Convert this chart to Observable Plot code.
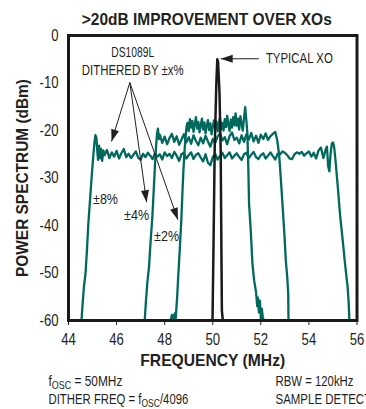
<!DOCTYPE html>
<html>
<head>
<meta charset="utf-8">
<script src="https://cdn.jsdelivr.net/npm/d3@7"></script>
<script src="https://cdn.jsdelivr.net/npm/@observablehq/plot@0.6"></script>
<style>
  html, body { margin: 0; padding: 0; background: #fff; }
  #chart { width: 366px; height: 409px; overflow: hidden; }
</style>
</head>
<body>
<div id="chart"></div>
<script>
// ---- data ----
const freqTicks = [44, 46, 48, 50, 52, 54, 56];
const powerTicks = [-60, -50, -40, -30, -20, -10, 0];

// DS1089L dithered by ±8%
const dither8 = [
  [44.54,-60],[44.58,-57],[44.64,-53],[44.71,-50],[44.77,-45],[44.82,-40],[44.89,-35],[44.96,-30],
  [45.02,-26],[45.07,-23],[45.12,-21],[45.16,-21.5],[45.2,-24.5],[45.23,-26.2],[45.27,-23.2],[45.31,-25.8],
  [45.35,-23.8],[45.4,-26.4],[45.45,-24.2],
  [45.5,-25.2],[45.6,-24.1],[45.7,-25.8],[45.8,-24.6],[45.9,-25.5],[46.0,-24.3],[46.1,-25.9],[46.2,-24.8],
  [46.3,-23.9],[46.4,-25.6],[46.5,-24.9],[46.6,-25.8],[46.7,-25.1],[46.8,-24.4],[46.9,-25.7],[47.0,-26.2],
  [47.1,-24.9],[47.2,-25.6],[47.3,-24.7],[47.4,-25.3],[47.5,-26.0],[47.6,-24.8],[47.7,-25.5],[47.8,-25.0],
  [47.9,-26.1],[48.0,-24.6],[48.1,-25.4],[48.2,-24.9],[48.3,-25.8],[48.4,-24.5],[48.5,-25.3],[48.6,-26.4],
  [48.7,-25.0],[48.8,-24.7],[48.9,-25.9],[49.0,-25.2],[49.1,-24.6],[49.2,-26.0],[49.3,-25.1],[49.4,-24.8],
  [49.5,-25.7],[49.6,-26.5],[49.7,-25.0],[49.8,-26.8],[49.9,-27.3],[50.0,-25.6],[50.1,-24.9],[50.2,-26.1],
  [50.3,-25.4],[50.4,-24.7],[50.5,-25.8],[50.6,-25.2],[50.7,-24.6],[50.8,-25.9],[50.9,-25.3],[51.0,-24.8],
  [51.1,-25.6],[51.2,-26.2],[51.3,-25.0],[51.4,-24.7],[51.5,-25.8],[51.6,-25.1],[51.7,-24.5],[51.8,-25.6],
  [51.9,-26.0],[52.0,-25.2],[52.1,-24.8],[52.2,-25.9],[52.3,-25.3],[52.4,-24.6],[52.5,-25.4],[52.6,-26.1],
  [52.7,-24.9],[52.8,-25.0],[52.9,-24.4],[53.0,-24.7],[53.1,-25.2],[53.2,-25.9],[53.3,-26.0],[53.4,-25.0],
  [53.5,-24.6],[53.6,-24.9],[53.7,-24.5],[53.8,-25.3],[53.9,-24.8],[54.0,-24.4],[54.1,-25.5],[54.2,-24.7],
  [54.3,-25.9],[54.4,-24.2],[54.5,-23.6],[54.6,-25.8],[54.7,-24.0],[54.75,-23.4],[54.8,-27.5],[54.85,-28.6],
  [54.9,-25.0],[54.95,-22.8],[55.0,-22.5],[55.05,-23.5],[55.1,-26.0],[55.19,-31.2],[55.3,-38],[55.42,-43.8],
  [55.5,-48],[55.61,-52.9],[55.65,-56],[55.68,-59.6],[55.69,-60]
];

// DS1089L dithered by ±4%
const dither4 = [
  [47.17,-60],[47.22,-56],[47.28,-52],[47.35,-48.6],[47.42,-43],[47.49,-38],[47.55,-32],[47.6,-27],
  [47.64,-23.5],[47.68,-20.8],[47.72,-19.6],[47.76,-21.8],
  [47.8,-20.9],[47.9,-22.6],[48.0,-21.3],[48.1,-22.9],[48.2,-21.6],[48.3,-20.7],[48.4,-22.4],[48.5,-21.2],
  [48.6,-23.0],[48.7,-21.9],[48.8,-20.8],[48.9,-22.5],[49.0,-21.4],[49.1,-22.8],[49.2,-21.0],[49.3,-22.2],
  [49.4,-23.1],[49.5,-21.5],[49.6,-22.7],[49.7,-21.1],[49.8,-22.3],[49.9,-23.4],[50.0,-21.8],[50.1,-22.6],
  [50.2,-21.3],[50.3,-20.6],[50.4,-22.1],[50.5,-21.4],[50.6,-22.9],[50.7,-21.2],[50.8,-20.4],[50.9,-22.0],
  [51.0,-21.5],[51.1,-22.7],[51.2,-21.0],[51.3,-22.4],[51.4,-20.8],[51.5,-21.9],[51.6,-20.5],[51.7,-22.3],
  [51.8,-21.1],[51.9,-22.6],[52.0,-20.9],[52.1,-21.8],[52.2,-20.6],[52.3,-22.0],[52.4,-21.2],[52.5,-20.7],
  [52.6,-20.3],[52.68,-22.0],[52.76,-25],[52.83,-30],[52.9,-35.5],[52.97,-41],[53.04,-47.4],[53.1,-51],
  [53.14,-54.4],[53.15,-60]
];

// DS1089L dithered by ±2%
const dither2 = [
  [48.25,-60],[48.3,-58.8],[48.36,-59.6],[48.42,-58.5],[48.46,-59.5],[48.52,-55],[48.56,-51],[48.6,-47.6],
  [48.65,-43],[48.69,-39],[48.74,-33],[48.78,-28.4],[48.83,-24],[48.87,-21.4],[48.91,-19.2],
  [48.95,-18.4],[49.0,-20.1],[49.05,-17.6],[49.1,-19.4],[49.15,-18.0],[49.2,-20.3],[49.25,-18.7],[49.3,-17.2],
  [49.35,-19.6],[49.4,-18.2],[49.45,-20.4],[49.5,-18.9],[49.55,-17.5],[49.6,-19.8],[49.65,-18.3],[49.7,-20.6],
  [49.75,-19.0],[49.8,-17.8],[49.85,-19.9],[49.9,-18.5],[49.95,-20.8],[50.0,-19.2],[50.05,-17.9],[50.1,-19.5],
  [50.15,-18.1],[50.2,-20.2],[50.25,-18.6],[50.3,-17.3],[50.35,-19.7],[50.4,-18.4],[50.45,-20.0],[50.5,-17.6],
  [50.55,-19.3],[50.6,-16.9],[50.65,-18.8],[50.7,-20.1],[50.75,-17.7],[50.8,-19.4],[50.85,-17.2],[50.9,-18.9],
  [50.95,-16.4],[51.0,-19.0],[51.05,-17.5],[51.1,-19.8],[51.15,-17.0],[51.2,-18.6],[51.25,-20.0],[51.3,-17.4],
  [51.35,-15.1],[51.4,-18.0],[51.44,-20.6],[51.48,-28],[51.51,-35.4],[51.58,-41],[51.65,-48],[51.72,-51.5],
  [51.8,-54],[51.85,-57],[51.88,-55.2],[51.92,-58.3],[51.96,-55.8],[52.0,-59.6],[52.04,-57.5],[52.08,-59.2],
  [52.12,-60]
];

// Typical crystal oscillator
const typicalXO = [
  [49.99,-60],[50.03,-45],[50.08,-24],[50.15,-10],[50.19,-5],[50.22,-5.5],[50.28,-12],[50.33,-24],
  [50.36,-45],[50.38,-58],[50.42,-60]
];

// annotations (data coordinates)
const seriesLabels = [
  {x: 45.54, y: -34.5, text: "±8%"},
  {x: 46.83, y: -37.9, text: "±4%"},
  {x: 48.08, y: -42.3, text: "±2%"}
];
const partLabels = [
  {x: 46.67, y: -3.6, text: "DS1089L"},
  {x: 46.67, y: -7.4, text: "DITHERED BY ±x%"}
];
const pointerArrows = [
  {x1: 46.55, y1: -9.9, x2: 45.79, y2: -22.3},
  {x1: 46.55, y1: -9.9, x2: 47.25, y2: -35.1},
  {x1: 46.55, y1: -9.9, x2: 48.55, y2: -38.8},
  {x1: 51.92, y1: -4.9, x2: 50.33, y2: -4.9}
];
const xoLabel = [{x: 52.21, y: -4.9, text: "TYPICAL XO"}];

const titleText = ">20dB IMPROVEMENT OVER XOs";
const xLabel = "FREQUENCY (MHz)";
const yLabel = "POWER SPECTRUM (dBm)";
const notesLeft = ["f{OSC} = 50MHz", "DITHER FREQ = f{OSC}/4096"];
const notesRight = ["RBW = 120kHz", "SAMPLE DETECT"];

// ---- styles ----
const FONT = "'Liberation Sans', Arial, Helvetica, sans-serif";
const TEAL = "#00695e";
const INK = "#231f20";
// condensed look: horizontal widths (px) of texts in the reference
const textWidths = new Map([
  [titleText, 250], [xLabel, 145], [yLabel, 198],
  ["DS1089L", 43], ["DITHERED BY ±x%", 102], ["TYPICAL XO", 67],
  ["±8%", 25], ["±4%", 25], ["±2%", 25],
  ["fOSC = 50MHz", 74], ["DITHER FREQ = fOSC/4096", 140], ["RBW = 120kHz", 78]
]);
const defaultCondense = 0.82;

const outside = {fill: INK, lineAnchor: "middle"};

const chart = Plot.plot({
  width: 366,
  height: 409,
  marginTop: 35,
  marginRight: 9.5,
  marginBottom: 89,
  marginLeft: 68,
  style: {fontFamily: FONT, fontSize: "16px", color: INK, background: "#fff"},
  x: {domain: [44, 56]},
  y: {domain: [-60, 0]},
  marks: [
    Plot.line(dither8, {x: d => d[0], y: d => d[1], stroke: TEAL, strokeWidth: 2.3, strokeLinejoin: "round"}),
    Plot.line(dither4, {x: d => d[0], y: d => d[1], stroke: TEAL, strokeWidth: 2.3, strokeLinejoin: "round"}),
    Plot.line(dither2, {x: d => d[0], y: d => d[1], stroke: TEAL, strokeWidth: 2.3, strokeLinejoin: "round"}),
    Plot.line(typicalXO, {x: d => d[0], y: d => d[1], stroke: "#1a1a1a", strokeWidth: 2.5, strokeLinejoin: "round"}),
    Plot.link(pointerArrows, {x1: "x1", y1: "y1", x2: "x2", y2: "y2", stroke: INK, strokeWidth: 1, markerEnd: "arrow"}),
    Plot.text(seriesLabels, {x: "x", y: "y", text: "text", fill: INK, fontSize: 14}),
    Plot.text(partLabels, {x: "x", y: "y", text: "text", fill: INK, fontSize: 14}),
    Plot.text(xoLabel, {x: "x", y: "y", text: "text", textAnchor: "start", fill: INK, fontSize: 14}),
    Plot.axisX(freqTicks, {tickSize: 5, tickPadding: 8, tickFormat: d => String(d), label: null, stroke: INK, fill: INK}),
    Plot.axisY(powerTicks, {tickSize: 0, tickPadding: 10, tickFormat: d => String(d), label: null, fill: INK}),
    Plot.frame({stroke: "#1a1a1a", strokeWidth: 3}),
    Plot.text([titleText], {...outside, frameAnchor: "top", textAnchor: "middle", dx: -6, dy: -16, fontSize: 16.5, fontWeight: "bold"}),
    Plot.text([xLabel], {...outside, frameAnchor: "bottom", textAnchor: "middle", dy: 40, fontSize: 16.5, fontWeight: "bold"}),
    Plot.text([yLabel], {...outside, frameAnchor: "left", textAnchor: "middle", dx: -45.5, rotate: -90, fontSize: 16.5, fontWeight: "bold"}),
    Plot.text([notesLeft[0]], {...outside, frameAnchor: "bottom-left", textAnchor: "start", dx: -20, dy: 61, fontSize: 14}),
    Plot.text([notesLeft[1]], {...outside, frameAnchor: "bottom-left", textAnchor: "start", dx: -20, dy: 79, fontSize: 14}),
    Plot.text([notesRight[0]], {...outside, frameAnchor: "bottom-left", textAnchor: "start", dx: 207, dy: 61, fontSize: 14}),
    Plot.text([notesRight[1]], {...outside, frameAnchor: "bottom-left", textAnchor: "start", dx: 207, dy: 79, fontSize: 14})
  ]
});

// filled arrowheads
d3.select(chart).selectAll("marker").each(function () {
  const m = d3.select(this);
  m.attr("viewBox", "-13 -5 14 10")
    .attr("markerWidth", 14).attr("markerHeight", 10)
    .attr("markerUnits", "userSpaceOnUse")
    .attr("refX", 0).attr("refY", 0)
    .attr("fill", INK).attr("stroke", "none");
  m.selectAll("*").remove();
  m.append("path").attr("d", "M-12,-4L0,0L-12,4Z");
});

// subscripts written as {..}
d3.select(chart).selectAll("text").each(function () {
  const t = this.textContent;
  if (!t.includes("{")) return;
  const el = d3.select(this);
  el.text(null);
  let shifted = false;
  for (const p of t.split(/(\{[^}]*\})/)) {
    if (!p) continue;
    if (p.startsWith("{")) {
      el.append("tspan").attr("dy", 3).attr("font-size", 10.5).text(p.slice(1, -1));
      shifted = true;
    } else {
      const ts = el.append("tspan").text(p);
      if (shifted) { ts.attr("dy", -3); shifted = false; }
    }
  }
});

document.getElementById("chart").appendChild(chart);

// condense texts horizontally (narrow typeface look)
d3.select(chart).selectAll("text").each(function () {
  const key = this.textContent;
  const w = this.getComputedTextLength();
  if (!w) return;
  const s = textWidths.has(key) ? textWidths.get(key) / w : defaultCondense;
  const tr = this.getAttribute("transform") || "";
  this.setAttribute("transform", `${tr} scale(${s.toFixed(4)},1)`);
});
</script>
</body>
</html>
